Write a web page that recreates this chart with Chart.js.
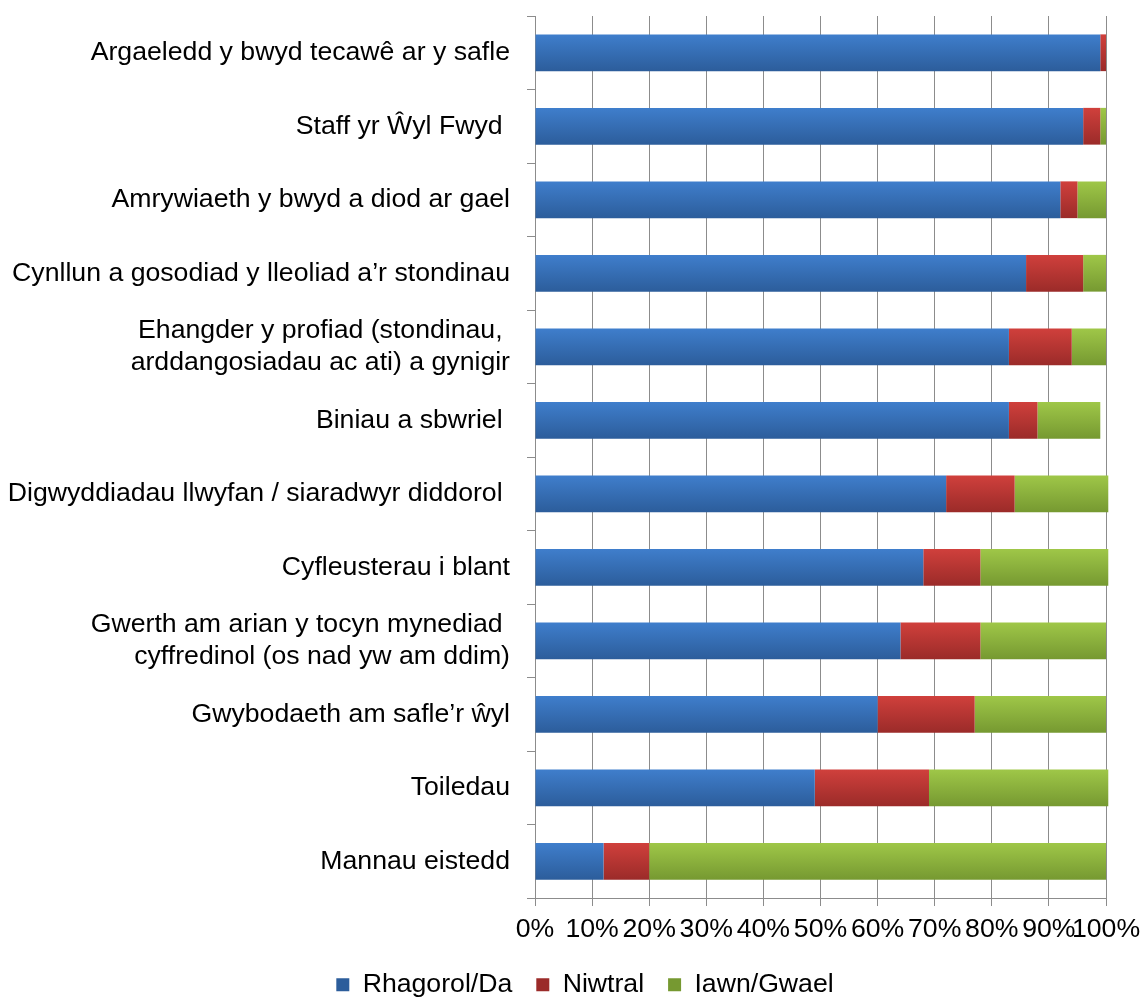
<!DOCTYPE html>
<html>
<head>
<meta charset="utf-8">
<script src="https://cdn.jsdelivr.net/npm/chart.js@4.4.1/dist/chart.umd.min.js"></script>
<style>
html,body{margin:0;padding:0;background:#fff;}
#wrap{width:1142px;height:998px;position:relative;}
</style>
</head>
<body>
<div id="wrap"><canvas id="c"></canvas></div>
<script>
const categories = [
  'Argaeledd y bwyd tecawê ar y safle',
  'Staff yr Ŵyl Fwyd ',
  'Amrywiaeth y bwyd a diod ar gael',
  'Cynllun a gosodiad y lleoliad a’r stondinau',
  ['Ehangder y profiad (stondinau, ', 'arddangosiadau ac ati) a gynigir'],
  'Biniau a sbwriel ',
  'Digwyddiadau llwyfan / siaradwyr diddorol ',
  'Cyfleusterau i blant',
  ['Gwerth am arian y tocyn mynediad ', 'cyffredinol (os nad yw am ddim)'],
  'Gwybodaeth am safle’r ŵyl',
  'Toiledau',
  'Mannau eistedd'
];
const seriesNames = ['Rhagorol/Da', 'Niwtral', 'Iawn/Gwael'];
const rhagorol = [99, 96, 92, 86, 83, 83, 72, 68, 64, 60, 49, 12];
const niwtral  = [1, 3, 3, 10, 11, 5, 12, 10, 14, 17, 20, 8];
const iawn     = [0, 1, 5, 4, 6, 11, 16.4, 22.4, 22, 23, 31.4, 80];
const xTickLabels = ['0%','10%','20%','30%','40%','50%','60%','70%','80%','90%','100%'];

Chart.defaults.font.family = "'Liberation Sans', Arial, sans-serif";
Chart.defaults.font.size = 26.67;
Chart.defaults.color = '#000';

function grad(top, bottom, mid) {
  return (ctx) => {
    const chart = ctx.chart;
    if (ctx.type !== 'data' || !chart.scales || !chart.scales.y) return mid;
    const ys = chart.scales.y;
    const c = ys.getPixelForValue(ctx.dataIndex);
    const h = (ys.height / categories.length) * 0.5;
    if (!isFinite(c) || !isFinite(h) || h <= 0) return mid;
    const g = chart.ctx.createLinearGradient(0, c - h / 2, 0, c + h / 2);
    g.addColorStop(0, top);
    g.addColorStop(1, bottom);
    return g;
  };
}

const gridColor = '#8c8c8c';

const shiftLegend = {
  id: 'shiftLegend',
  afterLayout(chart) {
    if (chart.legend) { chart.legend.left += 64; }
  }
};

new Chart(document.getElementById('c'), {
  type: 'bar',
  data: {
    labels: categories,
    datasets: [
      { label: seriesNames[0], data: rhagorol, backgroundColor: grad('#3f7ecc', '#2c5d9b', '#3670b8') },
      { label: seriesNames[1], data: niwtral,  backgroundColor: grad('#d0403c', '#9b2b29', '#bd3532') },
      { label: seriesNames[2], data: iawn,     backgroundColor: grad('#9fc748', '#769931', '#8cb23d') }
    ]
  },
  plugins: [shiftLegend],
  options: {
    indexAxis: 'y',
    responsive: true,
    maintainAspectRatio: false,
    animation: false,
    layout: { padding: { left: 0, right: 36, top: 16, bottom: -10 } },
    datasets: { bar: { barPercentage: 0.5, categoryPercentage: 1, clip: false } },
    scales: {
      x: {
        stacked: true, min: 0, max: 100,
        ticks: { stepSize: 10, autoSkip: false, maxRotation: 0, minRotation: 0, padding: 8,
                 callback: (v, i) => xTickLabels[i] },
        grid: { color: gridColor, tickLength: 8, drawTicks: true, lineWidth: 1 },
        border: { color: gridColor },
        afterFit: s => { s.height = 49.3; s.paddingLeft = 0; s.paddingRight = 0; }
      },
      y: {
        stacked: true,
        ticks: { padding: 17, autoSkip: false },
        grid: { drawOnChartArea: false, tickLength: 8, color: gridColor },
        border: { color: gridColor },
        afterFit: s => { s.width = 535; s.paddingTop = 0; s.paddingBottom = 0; }
      }
    },
    plugins: {
      legend: { position: 'bottom', labels: { boxWidth: 13, boxHeight: 13, padding: 24 } },
      tooltip: { enabled: false }
    }
  }
});
</script>
</body>
</html>
